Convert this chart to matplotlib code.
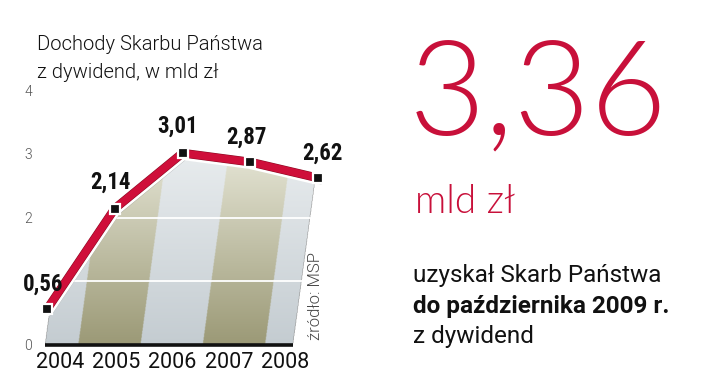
import numpy as np
import matplotlib
matplotlib.use("Agg")
import matplotlib.pyplot as plt
from matplotlib import patheffects as pe
from matplotlib.path import Path
from matplotlib.patches import PathPatch
from matplotlib import font_manager as fm

# ---- data ----
years = ["2004", "2005", "2006", "2007", "2008"]
values = [0.56, 2.14, 3.01, 2.87, 2.62]
value_labels = ["0,56", "2,14", "3,01", "2,87", "2,62"]
ytick_vals = [0, 2, 3, 4]
big_number = "3,36"

# ---- fonts ----
names = {f.name for f in fm.fontManager.ttflist}
def pick(*cands):
    for c in cands:
        if c in names:
            return c
    return "DejaVu Sans"
F_NARROW = pick("Roboto Condensed", "Liberation Sans Narrow", "Roboto")
F_TEXT = pick("Roboto", "Liberation Sans")
F_LATO = pick("Lato", "Roboto")

W, H = 720, 380
fig = plt.figure(figsize=(W / 100, H / 100), dpi=100)
fig.patch.set_facecolor("white")

# axes placement (pixels)
ax_l, ax_r, ax_t, ax_b = 36, 345, 80, 345
ax = fig.add_axes([ax_l / W, (H - ax_b) / H, (ax_r - ax_l) / W, (ax_b - ax_t) / H])
x0_px, dx_px, dy_px = 47, 67.75, 63.75
ax.set_xlim((ax_l - x0_px) / dx_px, (ax_r - x0_px) / dx_px)
ax.set_ylim(0, (ax_b - ax_t) / dy_px)
for s in ax.spines.values():
    s.set_visible(False)

x = np.arange(len(values))
y = np.array(values)

# ---- slanted gradient stripes under the line ----
slant = 0.127
edges = [-0.03] + [0.46 + 0.92 * k for k in range(4)] + [3.63]
khaki_b, khaki_t = np.array([155, 153, 118]) / 255, np.array([228, 228, 212]) / 255
gray_b, gray_t = np.array([196, 204, 209]) / 255, np.array([232, 236, 238]) / 255
ytop = 3.3
gx = np.linspace(-0.3, 4.4, 700)
gy = np.linspace(0, ytop, 400)
GX, GY = np.meshgrid(gx, gy)
XS = GX - slant * GY
img = np.zeros(GX.shape + (4,))
t = np.clip(GY / 3.0, 0, 1)[..., None]
for i in range(len(edges) - 1):
    m = (XS >= edges[i]) & (XS < edges[i + 1])
    if i % 2 == 0:
        c = gray_b * (1 - t) + gray_t * t
    else:
        c = khaki_b * (1 - t) + khaki_t * t
    img[..., :3] = np.where(m[..., None], c, img[..., :3])
    img[..., 3] = np.where(m, 1.0, img[..., 3])
im = ax.imshow(img, extent=(gx[0], gx[-1], 0, ytop), origin="lower",
               aspect="auto", zorder=1, interpolation="bilinear")
verts = [(edges[0], 0), (edges[0], y[0])] + list(zip(x, y)) + [(4.4, y[-1]), (4.4, 0)]
clip = PathPatch(Path(verts + [verts[0]]), transform=ax.transData, facecolor="none", edgecolor="none")
ax.add_patch(clip)
im.set_clip_path(clip)

# white gridlines inside stripes
for gv in [1, 2]:
    ln, = ax.plot([edges[0], edges[-1] + slant * gv], [gv, gv], color="white", lw=1.3, zorder=2)
    ln.set_clip_path(clip)

# baseline
ax.plot([edges[0], edges[-1]], [0, 0], color="#111111", lw=2.6, zorder=3,
        solid_capstyle="butt", clip_on=False)

# ---- line ----
red = "#cf0f3a"
ax.plot(x, y, color=red, lw=5.5, zorder=5, solid_capstyle="round", solid_joinstyle="round",
        path_effects=[pe.SimpleLineShadow(offset=(1.5, -2), shadow_color="#444444", alpha=0.3),
                      pe.Stroke(linewidth=10, foreground="white"),
                      pe.Stroke(linewidth=6.3, foreground="#8a0a22"),
                      pe.Normal()])
ax.plot(x, y, ls="none", marker="s", ms=6.5, mfc="#111111", mec="white", mew=1.6, zorder=6)

offsets = [(-3, 13.5), (-3, 14), (-3.5, 15), (-3, 13.5), (3.5, 13)]
for xi, yi, lab, off in zip(x, y, value_labels, offsets):
    ax.annotate(lab, (xi, yi), xytext=off, textcoords="offset points",
                ha="center", va="baseline", fontsize=16.5, fontweight="bold",
                family=F_NARROW, color="#111111", zorder=7)

# ticks
ax.set_yticks(ytick_vals)
ax.set_yticklabels([str(v) for v in ytick_vals])
year_pos = [(60 - x0_px) / dx_px + k * 56.25 / dx_px for k in range(len(years))]
ax.set_xticks(year_pos)
ax.set_xticklabels(years)
ax.tick_params(axis="y", length=0, pad=3, labelsize=10, labelcolor="#555555")
ax.tick_params(axis="x", length=0, pad=5, labelsize=15.5, labelcolor="#111111")
for lab in ax.get_yticklabels():
    lab.set_family(F_TEXT); lab.set_fontweight(300)
for lab in ax.get_xticklabels():
    lab.set_family(F_TEXT)

# ---- texts ----
def fy(py):
    return (H - py) / H

fig.text(37 / W, fy(50), "Dochody Skarbu Państwa", fontsize=14.5, family=F_TEXT,
         fontweight=300, color="#111111", va="baseline")
fig.text(37 / W, fy(78), "z dywidend, w mld zł", fontsize=14.5, family=F_TEXT,
         fontweight=300, color="#111111", va="baseline")
fig.text(316 / W, fy(340), "źródło: MSP", fontsize=12, family=F_TEXT, fontweight=300,
         color="#444444", rotation=90, ha="center", va="bottom")

fig.text(409 / W, fy(135), big_number, fontsize=95, family=F_LATO, fontweight=300,
         color="#c8103a", va="baseline")
fig.text(415 / W, fy(213), "mld zł", fontsize=28, family=F_LATO, fontweight=300,
         color="#c8103a", va="baseline")
fig.text(413 / W, fy(282), "uzyskał Skarb Państwa", fontsize=17.5, family=F_TEXT,
         color="#111111", va="baseline")
fig.text(413 / W, fy(313), "do października 2009 r.", fontsize=17.5, family=F_TEXT,
         fontweight="bold", color="#111111", va="baseline")
fig.text(413 / W, fy(343), "z dywidend", fontsize=17.5, family=F_TEXT,
         color="#111111", va="baseline")

fig.savefig("out.png", dpi=100)
